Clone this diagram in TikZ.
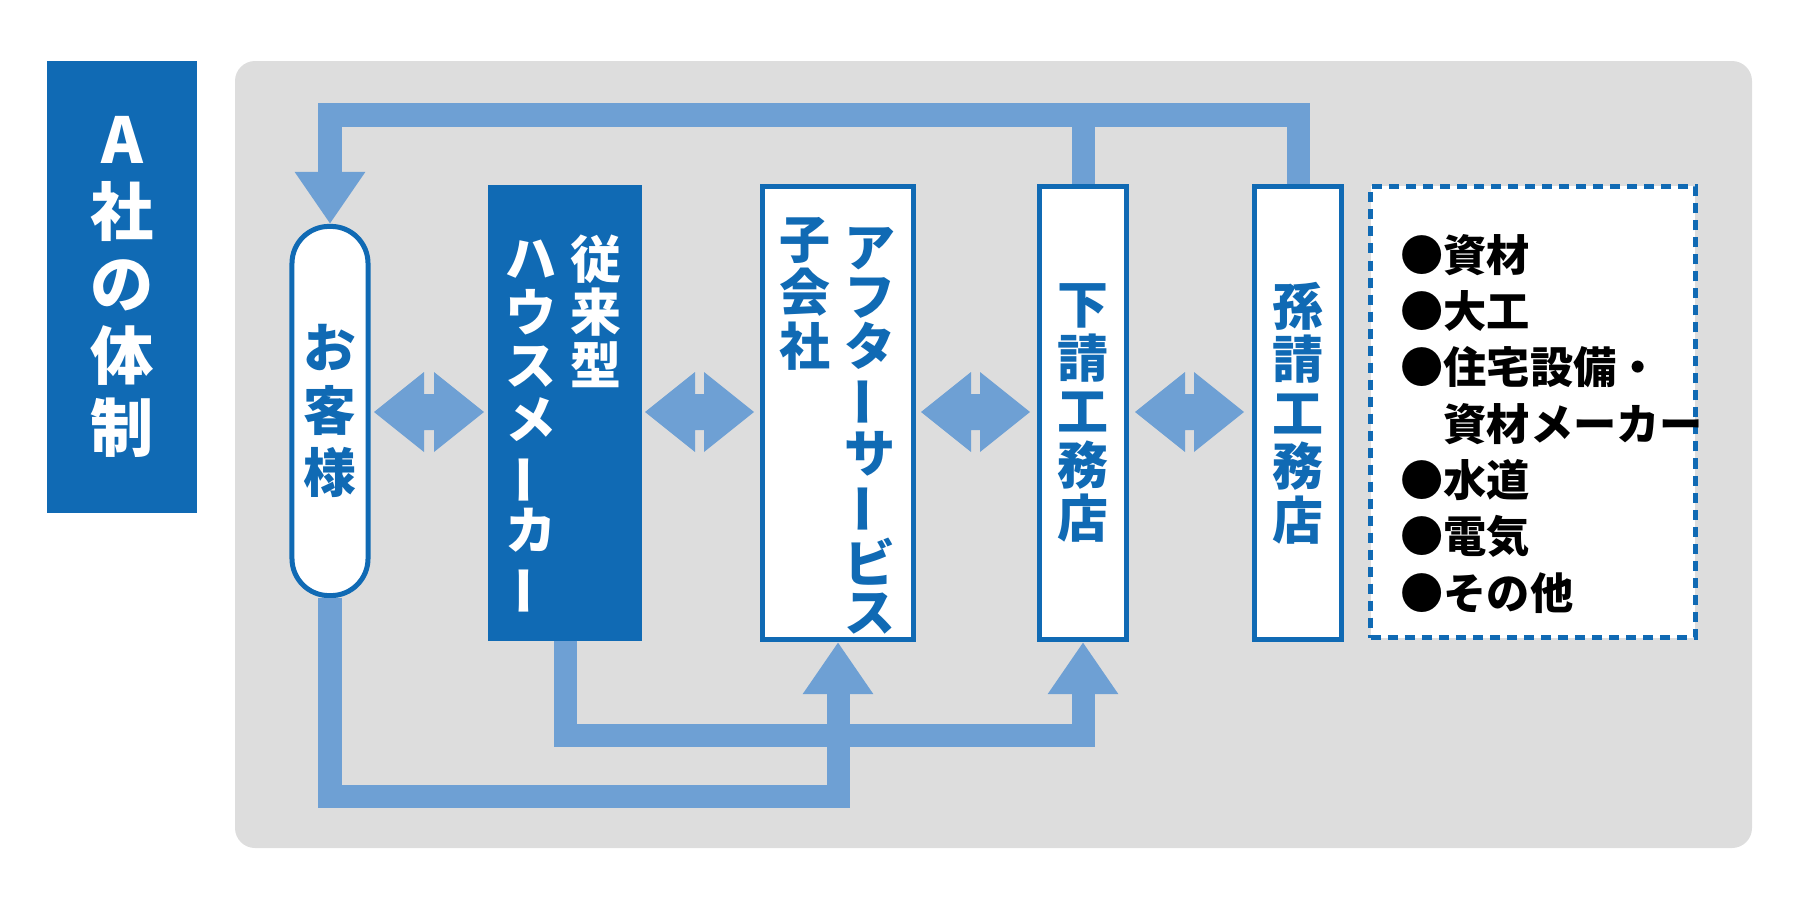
\documentclass[tikz,border=0pt]{standalone}
\usepackage{fontspec}
\setmainfont{Noto Sans CJK JP}
\usetikzlibrary{positioning,arrows.meta}
\definecolor{darkblue}{RGB}{16,106,180}
\definecolor{lightblue}{RGB}{110,160,212}
\definecolor{bggray}{RGB}{221,221,221}
\newcommand{\vlong}{\rotatebox[origin=c]{90}{ー}}
% double arrow between two x positions on one y
\newcommand{\dblarrow}[3]{\fill[lightblue] (#1,#3) -- ++(50,-40) -- ++(0,22) -- (#2-50,#3-18) -- ++(0,-22) -- (#2,#3) -- ++(-50,40) -- ++(0,-22) -- (#1+50,#3+18) -- ++(0,22) -- cycle;}

\begin{document}
\begin{tikzpicture}[x=0.01cm, y=-0.01cm,
  box/.style={draw=darkblue, line width=0.05cm, fill=white, minimum width=0.86cm, minimum height=4.53cm, inner sep=0pt},
  vtext/.style={align=center, text=darkblue, font=\fontsize{14.5}{15.2}\selectfont\bfseries},
  flow/.style={draw=lightblue, line width=0.23cm, line join=miter},
  tip/.style={-{Triangle[width=0.67cm,length=0.52cm]}}]

\useasboundingbox (0,0) rectangle (1800,909);

  % Background
  \fill[bggray, rounded corners=0.2cm] (235,61) rectangle (1752,848);
  \node (title) [fill=darkblue, minimum width=1.5cm, minimum height=4.52cm, text=white, align=center, font=\fontsize{18}{20.5}\selectfont\bfseries] at (122,287) {A\\社\\の\\体\\制};

  % Nodes
  \node (pill) [box, rounded corners=0.37cm, minimum width=0.76cm, minimum height=3.69cm] at (330,411) {};
  \node [vtext, font=\fontsize{15}{17.8}\selectfont\bfseries] at (pill) {お\\客\\様};
  \node (house) [box, draw=darkblue, fill=darkblue, minimum width=1.49cm, minimum height=4.5cm] at (565,413) {};
  \node [vtext, text=white, anchor=north] at (596,222) {従\\来\\型};
  \node [vtext, text=white, anchor=north] at (531,228) {ハ\\ウ\\ス\\メ\\\vlong\\カ\\\vlong};
  \node (after) [box, minimum width=1.5cm] at (838,413) {};
  \node [vtext, anchor=north, font=\fontsize{14.5}{14}\selectfont\bfseries] at (870,215) {ア\\フ\\タ\\\vlong\\サ\\\vlong\\ビ\\ス};
  \node [vtext, anchor=north] at (805,205) {子\\会\\社};
  \node (sub) [box] at (1083,413) {};
  \node [vtext] at (1083,413) {下\\請\\工\\務\\店};
  \node (subsub) [box] at (1298,413) {};
  \node [vtext] at (1298,413) {孫\\請\\工\\務\\店};
  \node (others) [draw=darkblue, line width=0.05cm, dash pattern=on 0.1cm off 0.07cm, fill=white, minimum width=3.24cm, minimum height=4.51cm] at (1533,412) {};
  \node [anchor=north west, align=left, font=\fontsize{12.3}{16}\selectfont\bfseries] at (1388,222) {●資材\\●大工\\●住宅設備・\\\phantom{●}資材メーカー\\●水道\\●電気\\●その他};

  % Arrows
  \dblarrow{374}{484}{412}
  \dblarrow{645}{754}{412}
  \dblarrow{921}{1030}{412}
  \dblarrow{1135}{1244}{412}

  \coordinate (loop) at (0,115);
  \coordinate (low1) at (0,796);
  \coordinate (low2) at (0,735);
  \draw[flow] (sub.north) -- (sub.north |- loop);
  \draw[flow, tip] (subsub.north) |- (pill.north |- loop) -- (pill.north);
  \draw[flow, tip] (pill.south) |- (after.south |- low1) -- (after.south);
  \draw[flow, tip] (house.south) |- (sub.south |- low2) -- (sub.south);

\end{tikzpicture}
\end{document}
